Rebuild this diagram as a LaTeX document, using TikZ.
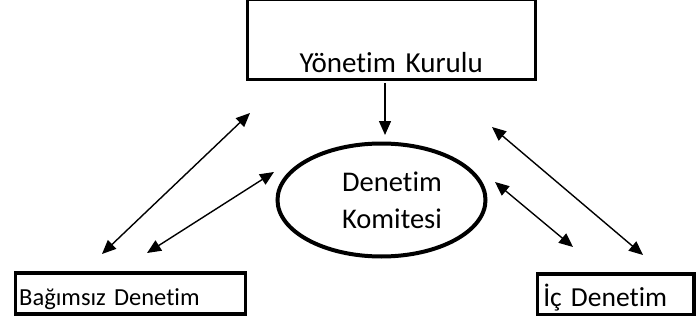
\documentclass[tikz,border=0pt]{standalone}
\usepackage{fontspec}
\setmainfont{Carlito}[Ligatures={NoCommon}]
\usetikzlibrary{arrows.meta,shapes.geometric}

\tikzset{
    kutu/.style={draw,line width=3.5pt,inner ysep=0pt,align=left},
    ok/.style={line width=1.4pt,{Triangle[length=14pt,width=12pt]}-{Triangle[length=14pt,width=12pt]}},
    tekok/.style={line width=1.4pt,-{Triangle[length=14pt,width=12pt]}}
}

\begin{document}
\begin{tikzpicture}[x=1pt,y=1pt]
    \useasboundingbox (0,0) rectangle (696,322);
    \pgfmathsetmacro{\elx}{381.5}
    \pgfmathsetmacro{\ely}{122}
    \node[kutu,anchor=south west,inner xsep=0pt,minimum width=288pt,text width=288pt,align=center,text height=73pt,text depth=7.5pt,font=\fontsize{29}{34}\selectfont] (yk) at (245.5,240.5) {Yönetim Kurulu};
    \node[draw,ellipse,line width=4pt,inner sep=0pt,minimum width=208pt,minimum height=113pt] (dk) at (\elx,\ely) {};
    \node[align=center,anchor=base,font=\fontsize{28.5}{37}\selectfont] (dkyazi) at (392,94) {Denetim\\Komitesi};
    \node[kutu,anchor=south west,inner xsep=4pt,text width=222pt,text height=32.5pt,text depth=8.5pt,font=\fontsize{24.5}{29}\selectfont] (bd) at (13.5,6.5) {Bağımsız Denetim};
    \node[kutu,anchor=south west,inner xsep=6pt,text width=144.5pt,text height=32.5pt,text depth=8pt,font=\fontsize{27.5}{32}\selectfont] (id) at (535.5,6) {İç Denetim};
    % ok uclari
    \coordinate (ykalt) at (385,239);
    \coordinate (dkust) at (385,187);
    \coordinate (l1a) at (250,209);
    \coordinate (l1b) at (102,68);
    \coordinate (l2a) at (274,150);
    \coordinate (l2b) at (147,69);
    \coordinate (r1a) at (492,195);
    \coordinate (r1b) at (643,67);
    \coordinate (r2a) at (495,140);
    \coordinate (r2b) at (573,75);
    \draw[tekok] (ykalt) -- (dkust);
    \draw[ok] (l1a) -- (l1b);
    \draw[ok] (l2a) -- (l2b);
    \draw[ok] (r1a) -- (r1b);
    \draw[ok] (r2a) -- (r2b);
\end{tikzpicture}
\end{document}
